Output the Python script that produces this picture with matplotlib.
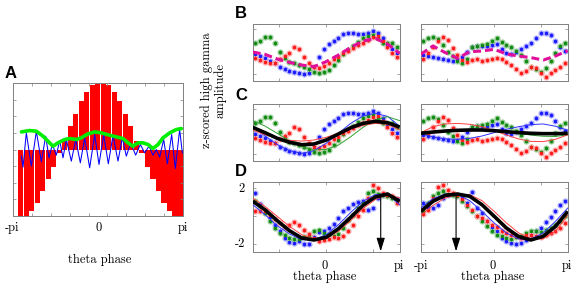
import numpy as np
import matplotlib
matplotlib.use("Agg")
import matplotlib.pyplot as plt

plt.rcParams['font.family'] = ['cmr10', 'DejaVu Serif']
plt.rcParams['axes.formatter.use_mathtext'] = True

W, H = 577, 289

# ---------------- panel A ----------------
bar_phase = np.linspace(-2.86, 3.05, 30)
bar_height = [-1.0, -1.0, -0.93, -0.81, -0.63, -0.45, -0.26, -0.06, 0.13, 0.35,
              0.54, 0.725, 0.86, 0.965, 1.0, 1.0, 0.965, 0.86, 0.725, 0.54,
              0.35, 0.13, -0.06, -0.26, -0.45, -0.63, -0.81, -0.93, -1.0, -1.0]

gamma_phase = [-2.834, -2.772, -2.649, -2.464, -2.279, -2.094, -1.934, -1.811, -1.688, -1.540,
               -1.416, -1.293, -1.170, -0.986, -0.825, -0.653, -0.493, -0.308, -0.123, 0.037,
               0.209, 0.382, 0.554, 0.739, 0.899, 1.047, 1.207, 1.392, 1.564, 1.725,
               1.885, 2.033, 2.156, 2.279, 2.427, 2.563, 2.723, 2.858, 3.018, 3.117]
gamma_value = [-0.10, -0.265, 0.25, -0.25, 0.275, -0.185, 0.20, -0.125, 0.075, -0.085,
               0.135, -0.125, 0.15, -0.175, 0.15, -0.20, 0.175, -0.275, 0.225, -0.225,
               0.225, -0.215, 0.215, -0.175, 0.175, -0.10, 0.10, -0.085, 0.075, -0.05,
               0.05, -0.085, 0.0, -0.115, 0.15, -0.215, 0.225, -0.285, 0.30, -0.05]

env_phase = [-2.83, -2.53, -2.28, -2.03, -1.79, -1.66, -1.48, -1.23, -1.05, -0.80,
             -0.62, -0.37, -0.12, 0.12, 0.43, 0.68, 0.92, 1.11, 1.29, 1.48,
             1.66, 1.85, 2.03, 2.22, 2.40, 2.65, 2.89, 3.08]
env_value = [0.265, 0.285, 0.275, 0.20, 0.10, 0.05, 0.10, 0.15, 0.165, 0.15,
             0.175, 0.235, 0.265, 0.25, 0.215, 0.19, 0.165, 0.10, 0.05, 0.10,
             0.10, 0.075, 0.015, 0.075, 0.175, 0.25, 0.30, 0.315]

# ---------------- panels B-D ----------------
bin_phase = np.linspace(-np.pi + np.pi / 30, np.pi - np.pi / 30, 30)
fit_phase = np.linspace(-np.pi, np.pi, 13)

b_left_blue = [-0.23, -0.41, -0.61, -0.82, -1.05, -1.34, -1.58, -1.72, -1.84, -1.93,
               -2.02, -1.87, -1.34, -0.52, 0.18, 0.65, 0.94, 1.14, 1.52, 1.64,
               1.58, 1.52, 1.52, 1.64, 1.82, 1.64, 1.14, 0.65, 0.18, -0.17]
b_left_green = [0.70, 0.94, 1.29, 1.29, 0.76, -0.03, -0.61, -0.90, -1.05, -1.20,
                -1.34, -1.58, -1.78, -1.87, -1.78, -1.64, -1.20, -0.76, -0.23, 0.12,
                0.47, 0.85, 1.14, 1.35, 1.44, 1.14, 0.76, 0.70, 0.76, 0.41]
b_left_red = [-0.61, -0.76, -0.90, -1.05, -0.99, -0.70, -0.41, -0.11, 0.35, 0.18,
              -0.47, -1.05, -1.34, -1.49, -1.28, -0.99, -0.70, -0.47, -0.17, 0.06,
              0.27, 0.56, 0.76, 1.00, 1.23, 1.35, 0.94, 0.41, -0.17, -0.52]
b_left_mean = [-0.06, -0.26, -0.67, -0.96, -1.20, -1.34, -0.90, -0.32, 0.35, 0.91, 1.14, 0.65, -0.17]

b_right_blue = [-0.32, -0.41, -0.52, -0.61, -0.70, -0.76, -0.82, -0.76, -0.52, -0.03,
                0.41, 0.50, 0.47, 0.47, 0.56, 0.65, 0.18, -0.17, -0.23, -0.06,
                0.24, 0.47, 0.76, 1.14, 1.58, 1.58, 1.44, 0.94, 0.41, 0.06]
b_right_green = [0.94, 1.14, 1.23, 1.05, 0.56, -0.03, -0.41, -0.82, -1.05, -0.70,
                 0.41, 0.47, 0.56, 0.65, 0.94, 1.14, 0.85, 0.56, 0.41, 0.06,
                 -0.32, -0.82, -1.34, -1.58, -1.78, -1.49, -0.82, -0.11, 0.47, 0.76]
b_right_red = [-0.70, -0.17, 0.35, 0.94, 1.23, 1.00, 0.27, -0.32, -0.76, -0.90,
               -0.76, -0.70, -0.82, -0.76, -0.70, -0.61, -0.70, -0.90, -1.20, -1.58,
               -1.87, -1.69, -1.34, -1.49, -1.87, -2.28, -1.93, -1.64, -1.34, -1.05]
b_right_mean = [-0.26, 0.47, -0.11, -0.61, -0.03, 0.03, 0.18, -0.23, -0.41, -0.55, -0.76, -0.41, 0.06]

c_left_fit_black = [0.35, -0.11, -0.61, -0.96, -1.17, -1.11, -0.76, -0.23, 0.32, 0.70, 0.88, 0.76, 0.38]
c_left_fit_blue = [0.45, -0.40, -1.15, -1.69, -1.93, -1.69, -1.05, -0.17, 0.70, 1.35, 1.58, 1.32, 0.45]
c_left_fit_green = [0.94, 0.47, -0.17, -0.82, -1.34, -1.64, -1.58, -1.20, -0.47, 0.35, 1.00, 1.29, 0.94]
c_left_fit_red = [0.12, -0.30, -0.60, -0.79, -0.85, -0.76, -0.52, -0.17, 0.21, 0.53, 0.70, 0.62, 0.12]

c_right_fit_black = [-0.17, -0.06, 0.03, 0.09, 0.12, 0.12, 0.06, -0.03, -0.11, -0.17, -0.20, -0.20, -0.17]
c_right_fit_blue = [-0.20, -0.50, -0.66, -0.70, -0.61, -0.41, -0.11, 0.18, 0.41, 0.59, 0.65, 0.45, 0.10]
c_right_fit_green = [-0.15, -0.02, 0.08, 0.14, 0.16, 0.14, 0.08, -0.03, -0.18, -0.33, -0.43, -0.45, -0.30]
c_right_fit_red = [-0.12, 0.41, 0.65, 0.70, 0.62, 0.41, 0.06, -0.32, -0.67, -0.88, -0.90, -0.70, -0.30]

d_left_blue = [1.61, 0.83, 0.30, -0.12, -0.65, -1.12, -1.60, -1.89, -1.96, -1.79,
               -2.03, -2.03, -1.55, -1.17, -1.08, -0.89, -0.60, -0.17, 0.30, 0.54,
               0.83, 0.97, 1.07, 0.42, 0.54, 1.26, 1.45, 1.50, 1.30, 1.21]
d_left_green = [1.02, 0.66, 0.19, -0.36, -0.89, -1.24, -1.41, -1.60, -1.65, -1.65,
                -1.55, -1.36, -1.12, -1.00, -1.24, -1.41, -1.48, -1.31, -0.89, -0.29,
                0.07, 0.54, 0.90, 1.61, 1.73, 1.54, 1.45, 1.38, 1.26, 1.02]
d_left_red = [0.30, 0.35, 0.30, 0.07, -0.22, -0.53, -0.84, -0.65, -0.46, -0.65,
              -1.00, -1.31, -1.60, -1.79, -1.72, -1.65, -1.55, -1.60, -1.48, -1.12,
              -0.65, -0.05, 0.42, 1.26, 2.21, 1.97, 1.61, 1.50, 1.38, 0.90]
d_left_fit_black = [1.02, 0.42, -0.36, -1.08, -1.60, -1.74, -1.55, -0.93, -0.12, 0.73, 1.33, 1.54, 1.02]
d_left_fit_blue = [0.78, 0.07, -0.72, -1.31, -1.72, -1.72, -1.36, -0.65, 0.23, 1.02, 1.50, 1.54, 0.78]
d_left_fit_green = [1.07, 0.42, -0.41, -1.12, -1.60, -1.74, -1.50, -0.89, -0.07, 0.78, 1.35, 1.54, 1.07]
d_left_fit_red = [1.26, 0.66, -0.05, -0.77, -1.36, -1.65, -1.60, -1.12, -0.36, 0.50, 1.14, 1.50, 1.26]
d_left_peak = 2.33

d_right_blue = [0.90, 0.59, 0.54, 0.73, 1.26, 1.50, 1.54, 1.50, 1.26, 0.90,
                1.69, 0.54, 0.19, -0.36, -0.84, -1.12, -1.60, -1.79, -1.96, -2.03,
                -1.96, -1.72, -1.41, -1.08, -0.89, -0.46, -0.12, 0.30, 0.73, 1.07]
d_right_green = [0.30, 0.90, 1.38, 1.61, 1.73, 1.54, 1.45, 1.38, 1.02, 0.66,
                 0.30, -0.05, -0.41, -0.77, -1.12, -1.36, -1.48, -1.60, -1.65, -1.55,
                 -1.48, -1.24, -1.08, -1.12, -1.17, -1.00, -0.89, -0.65, -0.36, -0.05]
d_right_red = [0.11, 0.42, 1.26, 2.02, 2.21, 1.85, 1.61, 1.50, 1.21, 0.78,
               0.42, -0.05, -0.17, -0.41, -0.65, -0.84, -1.08, -1.24, -1.36, -1.48,
               -1.60, -1.41, -1.36, -1.48, -1.55, -1.36, -1.24, -1.12, -0.89, -0.53]
d_right_fit_black = [0.30, 1.02, 1.45, 1.54, 1.38, 0.78, -0.05, -0.89, -1.50, -1.74, -1.48, -0.77, 0.30]
d_right_fit_blue = [0.54, 1.21, 1.54, 1.50, 1.07, 0.30, -0.53, -1.24, -1.67, -1.67, -1.24, -0.41, 0.54]
d_right_fit_green = [0.26, 0.97, 1.43, 1.54, 1.33, 0.71, -0.12, -0.96, -1.55, -1.72, -1.41, -0.65, 0.26]
d_right_fit_red = [0.02, 0.73, 1.26, 1.50, 1.50, 1.07, 0.30, -0.53, -1.24, -1.65, -1.65, -1.12, 0.02]
d_right_peak = -1.63

SERIES = {'blue': ('#1a1aff', '#a8a8ff'),
          'green': ('#118a11', '#96cc96'),
          'red': ('#ff1a1a', '#ffa8a8')}
FRAME = '#808080'


def add_axes(fig, x0, y0, x1, y1):
    return fig.add_axes([x0 / W, 1 - y1 / H, (x1 - x0) / W, (y1 - y0) / H])


def ftext(fig, px, py, s, **kw):
    kw.setdefault('ha', 'center')
    kw.setdefault('va', 'center')
    kw.setdefault('fontsize', 9)
    fig.text(px / W, 1 - py / H, s, **kw)


def style(ax, xt, yt):
    for sp in ax.spines.values():
        sp.set_color(FRAME)
        sp.set_linewidth(0.7)
    ax.set_xticks(xt)
    ax.set_yticks(yt)
    ax.tick_params(direction='in', length=2, width=0.5, color=FRAME,
                   top=True, right=True, labelbottom=False, labelleft=False)


def dots(ax, values, name):
    dark, light = SERIES[name]
    ax.plot(bin_phase, values, 'o', ms=4.4, color=light, mec='none', zorder=2)
    ax.plot(bin_phase, values, ls='none', marker=(6, 2, 0), ms=2.5, mew=0.5,
            color=dark, zorder=3)


def phase_panel(ax, blue, green, red):
    ax.set_xlim(-np.pi, np.pi)
    ax.set_ylim(-2.6, 2.4)
    style(ax, [-2, 0, 2], [-2, 0, 2])
    dots(ax, blue, 'blue')
    dots(ax, green, 'green')
    dots(ax, red, 'red')


def fits(ax, black, blue, green, red):
    ax.plot(fit_phase, blue, color='#3030ff', lw=0.7, zorder=4)
    ax.plot(fit_phase, green, color='#30a030', lw=0.7, zorder=4)
    ax.plot(fit_phase, red, color='#ff4040', lw=0.7, zorder=4)
    ax.plot(fit_phase, black, color='black', lw=2.6, zorder=5, solid_capstyle='butt')


def arrow(ax, x, top):
    ax.annotate('', xy=(x, -2.55), xytext=(x, top), zorder=6,
                arrowprops=dict(arrowstyle='-|>,head_length=0.8,head_width=0.25',
                                color='black', lw=0.8, mutation_scale=10,
                                shrinkA=0, shrinkB=0))


fig = plt.figure(figsize=(W / 100, H / 100), dpi=100)

# panel A
axA = add_axes(fig, 13, 83, 183, 216)
axA.bar(bar_phase, bar_height, width=0.19, color='#ff0000', zorder=1)
axA.plot(gamma_phase, gamma_value, color='#0000ff', lw=0.75, zorder=2)
axA.plot(env_phase, env_value, color='#00ee00', lw=2.6, zorder=3, solid_capstyle='round')
axA.set_xlim(-np.pi, np.pi)
axA.set_ylim(-1, 1)
style(axA, -np.pi + np.arange(1, 9) * 2 * np.pi / 9, np.arange(-0.75, 1.0, 0.25))

# panels B, C, D
col_x = [(252.7, 399.7), (420.7, 567.7)]
axB = [add_axes(fig, x0, 24, x1, 81) for x0, x1 in col_x]
axC = [add_axes(fig, x0, 104, x1, 161) for x0, x1 in col_x]
axD = [add_axes(fig, x0, 182, x1, 252) for x0, x1 in col_x]

phase_panel(axB[0], b_left_blue, b_left_green, b_left_red)
axB[0].plot(fit_phase, b_left_mean, color='#e0109a', lw=2.2, dashes=(2.6, 1.3), zorder=5)
phase_panel(axB[1], b_right_blue, b_right_green, b_right_red)
axB[1].plot(fit_phase, b_right_mean, color='#e0109a', lw=2.2, dashes=(2.6, 1.3), zorder=5)

phase_panel(axC[0], b_left_blue, b_left_green, b_left_red)
fits(axC[0], c_left_fit_black, c_left_fit_blue, c_left_fit_green, c_left_fit_red)
phase_panel(axC[1], b_right_blue, b_right_green, b_right_red)
fits(axC[1], c_right_fit_black, c_right_fit_blue, c_right_fit_green, c_right_fit_red)

phase_panel(axD[0], d_left_blue, d_left_green, d_left_red)
fits(axD[0], d_left_fit_black, d_left_fit_blue, d_left_fit_green, d_left_fit_red)
arrow(axD[0], d_left_peak, max(d_left_fit_black))
phase_panel(axD[1], d_right_blue, d_right_green, d_right_red)
fits(axD[1], d_right_fit_black, d_right_fit_blue, d_right_fit_green, d_right_fit_red)
arrow(axD[1], d_right_peak, max(d_right_fit_black))

# texts
for px, s in [(12, '-pi'), (99, '0'), (183, 'pi')]:
    ftext(fig, px, 228, s)
ftext(fig, 100, 260, 'theta phase')
for px, s in [(325, '0'), (399, 'pi'), (421, '-pi'), (493, '0'), (567, 'pi')]:
    ftext(fig, px, 266, s)
ftext(fig, 325, 277, 'theta phase')
ftext(fig, 493, 277, 'theta phase')
ftext(fig, 245, 189, '2', ha='right')
ftext(fig, 245, 244, '-2', ha='right')
ftext(fig, 213, 90, 'z-scored high gamma\namplitude', rotation=90,
      multialignment='center', linespacing=1.1)

for px, py, s in [(11, 74, 'A'), (241, 14, 'B'), (241, 96, 'C'), (241, 171, 'D')]:
    ftext(fig, px, py, s, fontsize=12, fontweight='bold', family='Liberation Sans')

fig.savefig('out.png', dpi=100)
